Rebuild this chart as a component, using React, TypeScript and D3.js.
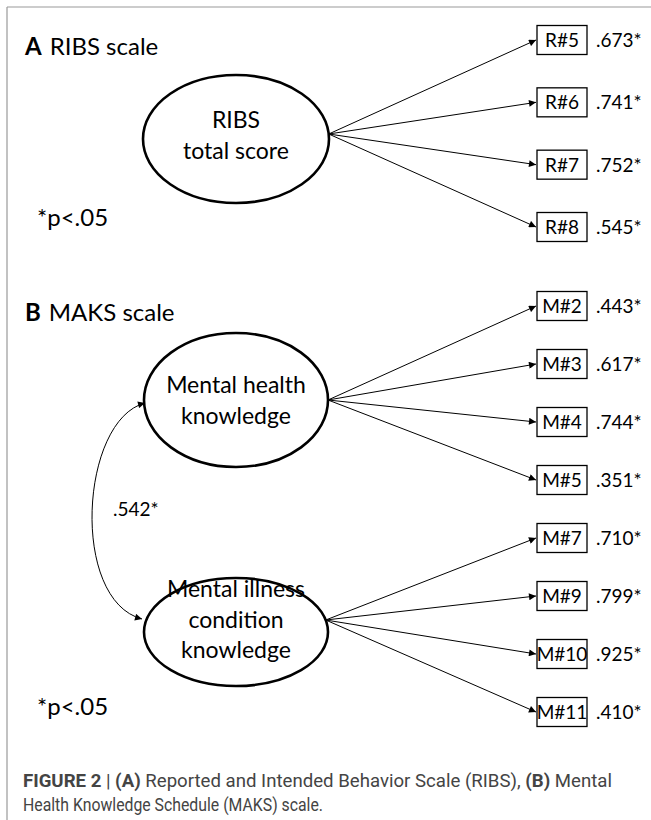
import React from "react";
import * as d3 from "d3";

// --- data ---
const ribsItems = ["R#5", "R#6", "R#7", "R#8"];
const ribsLoadings = [".673*", ".741*", ".752*", ".545*"];
const healthItems = ["M#2", "M#3", "M#4", "M#5"];
const healthLoadings = [".443*", ".617*", ".744*", ".351*"];
const illnessItems = ["M#7", "M#9", "M#10", "M#11"];
const illnessLoadings = [".710*", ".799*", ".925*", ".410*"];
const factorCorrelation = ".542*";
const significanceNote = "*p<.05";

const W = 651;
const H = 820;
const FONT = "Lato, 'Open Sans', sans-serif";
const CAPTION_FONT = "Roboto, 'Liberation Sans', sans-serif";

// indicator boxes
const boxX = 537;
const boxW = 50;
const boxH = 29;

const ribsY = d3.scalePoint<string>().domain(ribsItems).range([40, 227]);
const maksY = d3
  .scalePoint<string>()
  .domain([...healthItems, ...illnessItems])
  .range([306, 712]);

interface Factor {
  lines: string[];
  baselines: number[];
  cx: number;
  cy: number;
  rx: number;
  ry: number;
  originY: number;
  items: string[];
  loadings: string[];
  y: d3.ScalePoint<string>;
}

const factors: Factor[] = [
  {
    lines: ["RIBS", "total score"],
    baselines: [128, 159],
    cx: 236,
    cy: 139,
    rx: 93,
    ry: 64,
    originY: 134,
    items: ribsItems,
    loadings: ribsLoadings,
    y: ribsY,
  },
  {
    lines: ["Mental health", "knowledge"],
    baselines: [393, 424],
    cx: 236,
    cy: 400,
    rx: 92,
    ry: 67,
    originY: 400,
    items: healthItems,
    loadings: healthLoadings,
    y: maksY,
  },
  {
    lines: ["Mental illness", "condition", "knowledge"],
    baselines: [597, 628, 658],
    cx: 236,
    cy: 632,
    rx: 92,
    ry: 54,
    originY: 620,
    items: illnessItems,
    loadings: illnessLoadings,
    y: maksY,
  },
];

// point on the right side of the ellipse at a given y
function rightEdge(f: Factor) {
  const dy = (f.originY - f.cy) / f.ry;
  return f.cx + f.rx * Math.sqrt(Math.max(0, 1 - dy * dy));
}

function FactorBlock({ f }: { f: Factor }) {
  const ox = rightEdge(f);
  return (
    <g>
      <ellipse
        cx={f.cx}
        cy={f.cy}
        rx={f.rx}
        ry={f.ry}
        fill="#fff"
        stroke="#000"
        strokeWidth={2.6}
      />
      {f.lines.map((t, i) => (
        <text
          key={t}
          x={f.cx}
          y={f.baselines[i]}
          textAnchor="middle"
          fontSize={23}
          fontFamily={FONT}
        >
          {t}
        </text>
      ))}
      {f.items.map((item, i) => {
        const cy = f.y(item) as number;
        return (
          <g key={item}>
            <line
              x1={ox}
              y1={f.originY}
              x2={boxX - 1}
              y2={cy}
              stroke="#000"
              strokeWidth={1}
              markerEnd="url(#arrow)"
            />
            <rect
              x={boxX}
              y={cy - boxH / 2}
              width={boxW}
              height={boxH}
              fill="#fff"
              stroke="#000"
              strokeWidth={1.3}
            />
            <text
              x={boxX + boxW / 2}
              y={cy + 7}
              textAnchor="middle"
              fontSize={19}
              fontFamily={FONT}
            >
              {item}
            </text>
            <text x={boxX + boxW + 9} y={cy + 7} fontSize={19} fontFamily={FONT}>
              {f.loadings[i]}
            </text>
          </g>
        );
      })}
    </g>
  );
}

export default function App() {
  const health = factors[1];
  const illness = factors[2];
  // covariance arc between the two MAKS factors
  const arc = d3.path();
  arc.moveTo(health.cx - health.rx + 1, health.cy + 3);
  arc.bezierCurveTo(80, 420, 70, 600, illness.cx - illness.rx - 2, illness.originY - 1);

  return (
    <div style={{ position: "absolute", left: 0, top: 0 }}>
      <svg width={W} height={H} style={{ display: "block", background: "#fff" }}>
        <defs>
          <marker
            id="arrow"
            viewBox="0 0 10 10"
            refX={10}
            refY={5}
            markerWidth={9}
            markerHeight={7}
            markerUnits="userSpaceOnUse"
            orient="auto-start-reverse"
          >
            <path d="M0,0 L10,5 L0,10 Z" fill="#000" />
          </marker>
        </defs>

        {/* frame */}
        <line x1={7} y1={7} x2={W} y2={7} stroke="#999" strokeWidth={1.2} />
        <line x1={7} y1={7} x2={7} y2={H} stroke="#999" strokeWidth={1.2} />

        {/* panel headings */}
        <text x={25} y={55} fontFamily={FONT} fontSize={24}>
          <tspan fontWeight="bold">A</tspan>
          <tspan dx={8}>RIBS scale</tspan>
        </text>
        <text x={25} y={321} fontFamily={FONT} fontSize={24}>
          <tspan fontWeight="bold">B</tspan>
          <tspan dx={8}>MAKS scale</tspan>
        </text>

        {factors.map((f, i) => (
          <FactorBlock key={i} f={f} />
        ))}

        <path
          d={arc.toString()}
          fill="none"
          stroke="#000"
          strokeWidth={1}
          markerStart="url(#arrow)"
          markerEnd="url(#arrow)"
        />
        <text x={113} y={516} fontFamily={FONT} fontSize={19}>
          {factorCorrelation}
        </text>

        <text x={37} y={226} fontFamily={FONT} fontSize={24}>
          {significanceNote}
        </text>
        <text x={37} y={715} fontFamily={FONT} fontSize={24}>
          {significanceNote}
        </text>

        {/* caption */}
        <text
          x={23}
          y={787}
          fontFamily={CAPTION_FONT}
          fontSize={18}
          fill="#444"
          textLength={589}
          lengthAdjust="spacingAndGlyphs"
        >
          <tspan fontWeight="bold">FIGURE 2</tspan>
          <tspan> | </tspan>
          <tspan fontWeight="bold">(A)</tspan>
          <tspan> Reported and Intended Behavior Scale (RIBS), </tspan>
          <tspan fontWeight="bold">(B)</tspan>
          <tspan> Mental</tspan>
        </text>
        <text
          x={23}
          y={811}
          fontFamily={CAPTION_FONT}
          fontSize={18}
          fill="#444"
          textLength={300}
          lengthAdjust="spacingAndGlyphs"
        >
          Health Knowledge Schedule (MAKS) scale.
        </text>
      </svg>
    </div>
  );
}
